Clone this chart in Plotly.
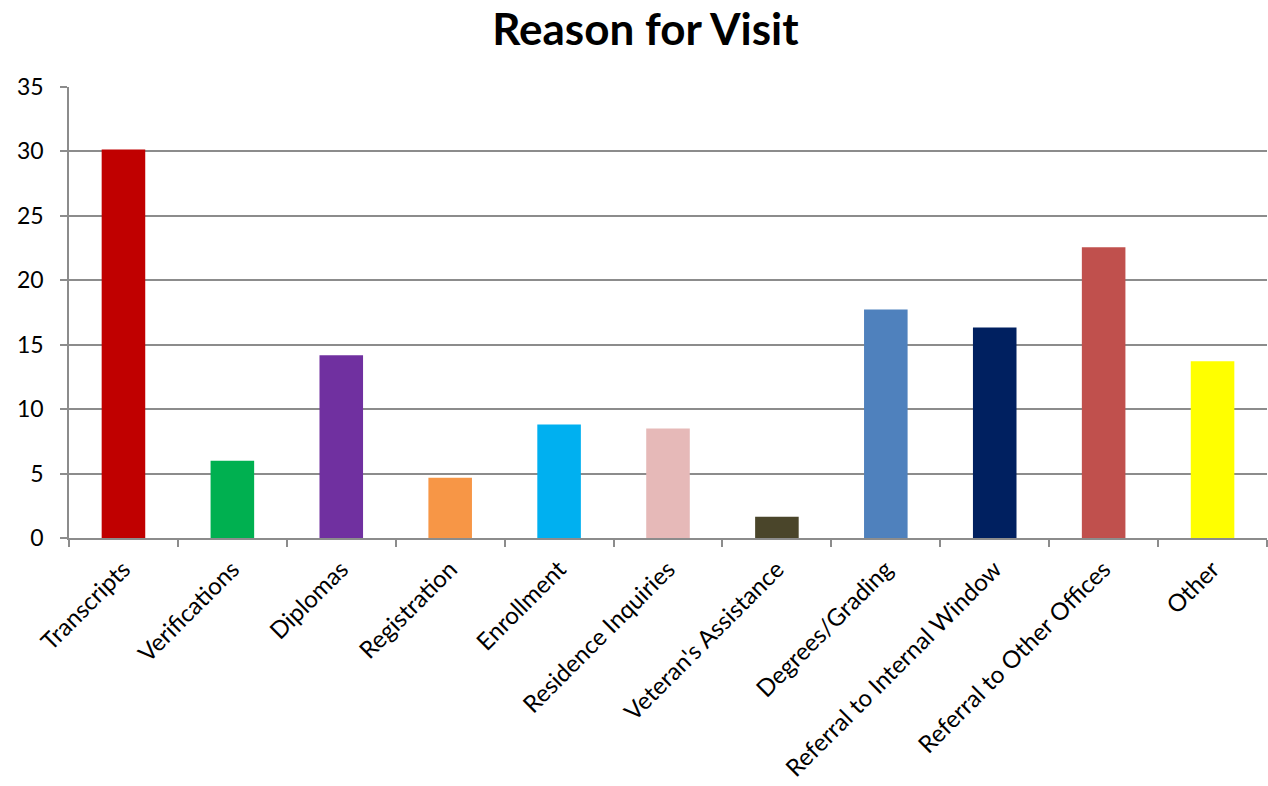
import plotly.graph_objects as go

categories = [
    "Transcripts", "Verifications", "Diplomas", "Registration", "Enrollment",
    "Residence Inquiries", "Veteran's Assistance", "Degrees/Grading",
    "Referral to Internal Window", "Referral to Other Offices", "Other",
]
values = [30.15, 5.99, 14.19, 4.67, 8.81, 8.5, 1.65, 17.73, 16.34, 22.56, 13.71]
colors = [
    "#C00000", "#00B050", "#7030A0", "#F79646", "#00B0F0", "#E6B9B8",
    "#4A452A", "#4F81BD", "#002060", "#C0504D", "#FFFF00",
]

fig = go.Figure(
    go.Bar(
        x=categories,
        y=values,
        marker=dict(color=colors, line=dict(width=0)),
        width=0.4,
        hoverinfo="x+y",
    )
)

font_family = "Lato, 'Open Sans', sans-serif"

fig.update_layout(
    width=1268,
    height=786,
    margin=dict(l=69, r=1, t=87, b=248),
    paper_bgcolor="white",
    plot_bgcolor="white",
    showlegend=False,
    font=dict(family=font_family, size=22, color="black"),
    title=dict(
        text="<b>Reason for Visit</b>",
        x=0.509,
        xanchor="center",
        y=0.962,
        yanchor="middle",
        font=dict(family=font_family, size=44, color="black"),
    ),
)

fig.update_xaxes(
    type="category",
    tickson="boundaries",
    ticks="outside",
    ticklen=7,
    tickwidth=1.5,
    tickcolor="#8c8c8c",
    showline=True,
    linecolor="#8c8c8c",
    linewidth=1.5,
    tickangle=-45,
    tickfont=dict(size=24),
    ticklabelstandoff=6,
    showgrid=False,
    automargin=False,
)

fig.update_yaxes(
    range=[0, 35],
    dtick=5,
    ticks="outside",
    ticklen=7,
    tickwidth=1.5,
    tickcolor="#8c8c8c",
    showline=True,
    linecolor="#8c8c8c",
    linewidth=1.5,
    showgrid=True,
    gridcolor="#8c8c8c",
    gridwidth=1.5,
    zeroline=False,
    tickfont=dict(size=23),
    ticklabelstandoff=12,
    automargin=False,
)

fig.write_html("out.html")
